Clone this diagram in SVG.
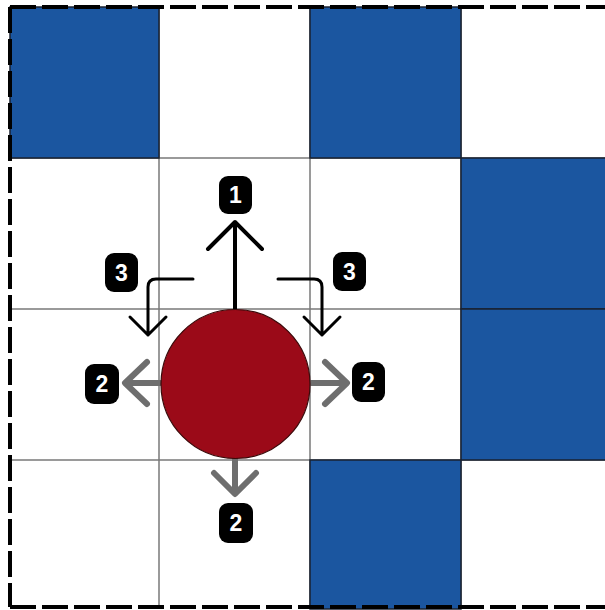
<svg xmlns="http://www.w3.org/2000/svg" width="605" height="610" viewBox="0 0 605 610">
<defs>
<style>
.blue{fill:#1B56A0;stroke:#1a2230;stroke-width:1.5}
.grid{stroke:#7a7a7a;stroke-width:1.5;fill:none}
.dash{stroke:#000;stroke-width:4;stroke-dasharray:26 6;fill:none}
.badge rect{fill:#000}
.badge text{fill:#fff;font-family:"Liberation Sans",Arial,sans-serif;font-weight:bold;font-size:23px;text-anchor:middle}
.blk{stroke:#000;stroke-width:4;fill:none;stroke-linecap:round;stroke-linejoin:round}
.blk3{stroke:#000;stroke-width:3;fill:none;stroke-linecap:round;stroke-linejoin:round}
.gry{stroke:#6E6E6E;stroke-width:6;fill:none;stroke-linecap:round;stroke-linejoin:round}
</style>
</defs>
<rect x="0" y="0" width="605" height="610" fill="#fff"/>
<g id="grid">
<path class="grid" d="M159 7V607M310 7V607M461 7V607M10 158H605M10 309H605M10 460H605"/>
<rect class="blue" x="10" y="7" width="149" height="151"/>
<rect class="blue" x="310" y="7" width="151" height="151"/>
<rect class="blue" x="461" y="158" width="146" height="151"/>
<rect class="blue" x="461" y="309" width="146" height="151"/>
<rect class="blue" x="310" y="460" width="151" height="149"/>
</g>
<g id="border">
<path class="dash" d="M10 7H605"/>
<path class="dash" d="M10 607H605"/>
<path class="dash" d="M10 7V607"/>
</g>
<g id="connectors">
<path class="blk" d="M235 309V222M208 249L235 222L262 249"/>
<path class="blk3" d="M193 279H156Q148 279 148 287V335M130 317L148 335L166 317"/>
<path class="blk3" d="M278 279H314Q322 279 322 287V335M304 317L322 335L340 317"/>
<path class="gry" d="M160 383H126M147 362L125 383L147 404"/>
<path class="gry" d="M310 383H345M325 362L347 383L325 404"/>
<path class="gry" d="M235 458V492M214 473L235 494L256 473"/>
</g>
<g id="agent">
<circle cx="235.5" cy="384" r="74.5" fill="#9B0A18" stroke="#3a0a0a" stroke-width="1.2"/>
</g>
<g id="badge-1" class="badge"><rect x="219" y="176" width="33" height="38" rx="9"/><text x="235.5" y="203">1</text></g>
<g id="badge-3-left" class="badge"><rect x="105" y="253" width="33" height="39" rx="9"/><text x="121.5" y="281">3</text></g>
<g id="badge-3-right" class="badge"><rect x="333" y="252" width="33" height="39" rx="9"/><text x="349.5" y="280">3</text></g>
<g id="badge-2-left" class="badge"><rect x="85" y="364" width="34" height="40" rx="9"/><text x="102" y="392">2</text></g>
<g id="badge-2-right" class="badge"><rect x="352" y="362" width="33" height="40" rx="9"/><text x="368.5" y="390">2</text></g>
<g id="badge-2-bottom" class="badge"><rect x="219" y="503" width="34" height="40" rx="9"/><text x="236" y="531">2</text></g>
</svg>
